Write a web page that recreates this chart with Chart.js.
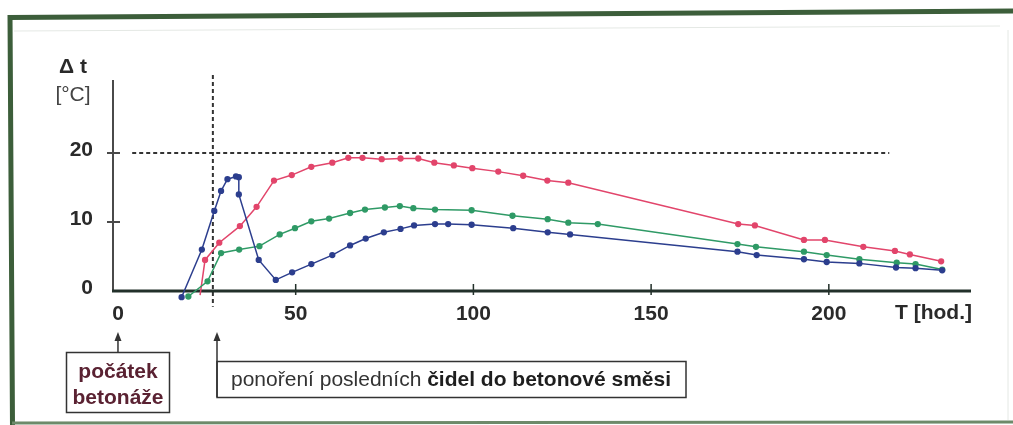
<!DOCTYPE html>
<html>
<head>
<meta charset="utf-8">
<script src="https://cdn.jsdelivr.net/npm/chart.js@4/dist/chart.umd.min.js"></script>
<style>
  html, body { margin: 0; padding: 0; background: #fff; }
  #wrap { width: 1013px; height: 425px; position: relative; }
</style>
</head>
<body>
<div id="wrap"><canvas id="chart" width="1013" height="425"></canvas></div>
<script>
// hodnoty
const xTicks = [0, 50, 100, 150, 200]
const yTicks = [0, 10, 20]

const blueX = [17.9, 23.6, 27.1, 29.0, 30.8, 33.2, 34.0, 34.0, 39.6, 44.4, 49.0, 54.4, 60.3, 65.3, 69.7, 74.8, 79.5, 83.3, 89.2, 92.9, 99.5, 111.2, 120.9, 127.2, 174.3, 179.7, 193.0, 199.4, 208.6, 218.9, 224.4, 231.9]
const blueY = [-0.9, 6.0, 11.6, 14.5, 16.2, 16.6, 16.5, 14.0, 4.5, 1.6, 2.7, 3.9, 5.2, 6.6, 7.6, 8.5, 9.0, 9.5, 9.7, 9.7, 9.6, 9.1, 8.5, 8.2, 5.7, 5.2, 4.6, 4.2, 4.0, 3.4, 3.3, 3.0]

const greenX = [19.8, 25.2, 29.0, 34.1, 39.8, 45.5, 49.8, 54.4, 59.4, 65.3, 69.5, 75.1, 79.3, 83.1, 89.2, 99.5, 111.0, 120.9, 126.7, 135.0, 174.3, 179.5, 193.0, 199.4, 208.6, 219.1, 224.4, 231.9]
const greenY = [-0.8, 1.4, 5.5, 6.0, 6.5, 8.2, 9.1, 10.1, 10.5, 11.3, 11.8, 12.1, 12.3, 12.0, 11.8, 11.7, 10.9, 10.4, 9.9, 9.7, 6.8, 6.4, 5.7, 5.2, 4.6, 4.1, 3.9, 3.1]

const redX = [23.1, 24.5, 28.5, 34.3, 39.0, 43.9, 48.9, 54.4, 60.3, 64.8, 68.8, 74.2, 79.5, 84.5, 89.0, 94.5, 99.7, 107.0, 114.0, 120.8, 126.7, 174.5, 179.2, 193.0, 198.9, 209.7, 218.6, 222.8, 231.6]
const redY = [-0.6, 4.5, 7.0, 9.4, 12.2, 16.0, 16.8, 18.0, 18.6, 19.3, 19.3, 19.1, 19.2, 19.2, 18.6, 18.2, 17.8, 17.3, 16.7, 16.0, 15.7, 9.7, 9.5, 7.4, 7.4, 6.4, 5.8, 5.3, 4.3]

// pomocné čáry: 20 °C a okamžik ponoření čidel
const limitY = 20
const limitFrom = 4
const limitTo = 217
const immersionX = 26.7

const FONT = '"Liberation Sans", Arial, sans-serif'
const TEXT = '#2a2a2a'

function toPoints(xs, ys) {
  return xs.map((x, i) => ({ x: x, y: ys[i] }))
}

function series(label, xs, ys, color) {
  return {
    label: label,
    data: toPoints(xs, ys),
    showLine: true,
    borderColor: color,
    backgroundColor: color,
    borderWidth: 1.5,
    pointRadius: 2.4,
    pointHoverRadius: 2.4,
    clip: false,
  }
}

const decor = {
  id: 'decor',
  beforeDatasetsDraw(chart) {
    const ctx = chart.ctx
    const xs = chart.scales.x
    const ys = chart.scales.y
    const x0 = xs.getPixelForValue(xs.min)
    const y0 = ys.getPixelForValue(0)

    ctx.save()
    // dashed helper lines
    ctx.strokeStyle = '#333'
    ctx.lineWidth = 2
    ctx.setLineDash([4, 3])
    ctx.beginPath()
    ctx.moveTo(xs.getPixelForValue(limitFrom), ys.getPixelForValue(limitY))
    ctx.lineTo(xs.getPixelForValue(limitTo), ys.getPixelForValue(limitY))
    ctx.moveTo(xs.getPixelForValue(immersionX), ys.getPixelForValue(31.3))
    ctx.lineTo(xs.getPixelForValue(immersionX), ys.getPixelForValue(-2.3))
    ctx.stroke()
    ctx.setLineDash([])

    // y axis
    ctx.strokeStyle = '#4a4a4a'
    ctx.lineWidth = 2
    ctx.beginPath()
    ctx.moveTo(x0, ys.getPixelForValue(ys.max))
    ctx.lineTo(x0, y0)
    yTicks.forEach(v => {
      if (v === 0) return
      const py = ys.getPixelForValue(v)
      ctx.moveTo(x0 - 6, py)
      ctx.lineTo(x0 + 7, py)
    })
    ctx.stroke()

    // x axis
    ctx.strokeStyle = '#22302a'
    ctx.lineWidth = 3
    ctx.beginPath()
    ctx.moveTo(x0 - 1, y0)
    ctx.lineTo(xs.getPixelForValue(xs.max), y0)
    ctx.stroke()
    ctx.lineWidth = 1.5
    ctx.beginPath()
    xTicks.forEach(v => {
      if (v === 0) return
      const px = xs.getPixelForValue(v)
      ctx.moveTo(px, y0 - 7)
      ctx.lineTo(px, y0 + 4)
    })
    ctx.stroke()
    ctx.restore()
  },
  afterDraw(chart) {
    const ctx = chart.ctx
    const xs = chart.scales.x
    ctx.save()

    // axis titles
    ctx.fillStyle = TEXT
    ctx.textBaseline = 'middle'
    ctx.textAlign = 'center'
    ctx.font = 'bold 21px ' + FONT
    ctx.fillText('\u0394 t', 73, 67)
    ctx.font = '21px ' + FONT
    ctx.fillStyle = '#444'
    ctx.fillText('[°C]', 73, 95)
    ctx.fillStyle = TEXT
    ctx.font = 'bold 21px ' + FONT
    ctx.textAlign = 'left'
    ctx.fillText('T [hod.]', 895, 313)

    // note boxes
    ctx.strokeStyle = '#333'
    ctx.lineWidth = 1.5
    ctx.strokeRect(66.5, 352.5, 103, 60)
    ctx.strokeRect(217, 361.5, 469, 36)

    ctx.fillStyle = '#5a2232'
    ctx.textAlign = 'center'
    ctx.font = 'bold 21px ' + FONT
    ctx.fillText('počátek', 118, 372)
    ctx.fillText('betonáže', 118, 398)

    ctx.textAlign = 'left'
    ctx.font = '21px ' + FONT
    ctx.fillStyle = '#333'
    const part1 = 'ponoření posledních '
    ctx.fillText(part1, 231, 380)
    const w1 = ctx.measureText(part1).width
    ctx.font = 'bold 21px ' + FONT
    ctx.fillStyle = '#1e1e1e'
    ctx.fillText('čidel do betonové směsi', 231 + w1, 380)

    // arrows
    const ax1 = xs.getPixelForValue(0)
    const ax2 = 217
    ctx.strokeStyle = '#333'
    ctx.fillStyle = '#333'
    ctx.lineWidth = 1.5
    ctx.beginPath()
    ctx.moveTo(ax1, 352)
    ctx.lineTo(ax1, 338)
    ctx.moveTo(ax2, 397)
    ctx.lineTo(ax2, 338)
    ctx.stroke()
    ;[ax1, ax2].forEach(ax => {
      ctx.beginPath()
      ctx.moveTo(ax, 332)
      ctx.lineTo(ax - 3.5, 341)
      ctx.lineTo(ax + 3.5, 341)
      ctx.closePath()
      ctx.fill()
    })

    // green frame
    ctx.strokeStyle = '#3c5e3a'
    ctx.lineWidth = 5
    ctx.beginPath()
    ctx.moveTo(8, 17.5)
    ctx.lineTo(1013, 11)
    ctx.moveTo(10, 15)
    ctx.lineTo(12.5, 425)
    ctx.stroke()
    ctx.lineWidth = 3
    ctx.strokeStyle = '#6d8a6a'
    ctx.beginPath()
    ctx.moveTo(12, 423)
    ctx.lineTo(1013, 422)
    ctx.stroke()
    ctx.lineWidth = 1
    ctx.strokeStyle = '#e4e8e4'
    ctx.beginPath()
    ctx.moveTo(14, 31)
    ctx.lineTo(1000, 26)
    ctx.moveTo(1008, 30)
    ctx.lineTo(1008, 420)
    ctx.stroke()
    ctx.restore()
  }
}

new Chart(document.getElementById('chart'), {
  type: 'scatter',
  data: {
    datasets: [
      series('modrá', blueX, blueY, '#2c3e8e'),
      series('zelená', greenX, greenY, '#2f9a66'),
      Object.assign(series('červená', redX, redY, '#e2456b'), {
        pointRadius: redX.map((x, i) => i === 0 ? 0 : 2.4)
      }),
    ]
  },
  options: {
    responsive: false,
    animation: false,
    layout: { padding: { top: 80, right: 42, left: 0, bottom: 0 } },
    plugins: { legend: { display: false }, tooltip: { enabled: false } },
    scales: {
      x: {
        type: 'linear',
        min: -1.4,
        max: 240,
        grid: { display: false, drawTicks: false },
        border: { display: false },
        afterBuildTicks: s => { s.ticks = xTicks.map(v => ({ value: v })) },
        afterFit: s => { s.height = 425 - 301.6 },
        ticks: { padding: 0, color: TEXT, font: { family: FONT, size: 21, weight: 'bold' } }
      },
      y: {
        min: -1.54,
        max: 30.58,
        grid: { display: false, drawTicks: false },
        border: { display: false },
        afterBuildTicks: s => { s.ticks = yTicks.map(v => ({ value: v })) },
        afterFit: s => { s.width = 113 },
        ticks: { padding: 20, labelOffset: -3, color: TEXT, font: { family: FONT, size: 21, weight: 'bold' } }
      }
    }
  },
  plugins: [decor]
})
</script>
</body>
</html>
